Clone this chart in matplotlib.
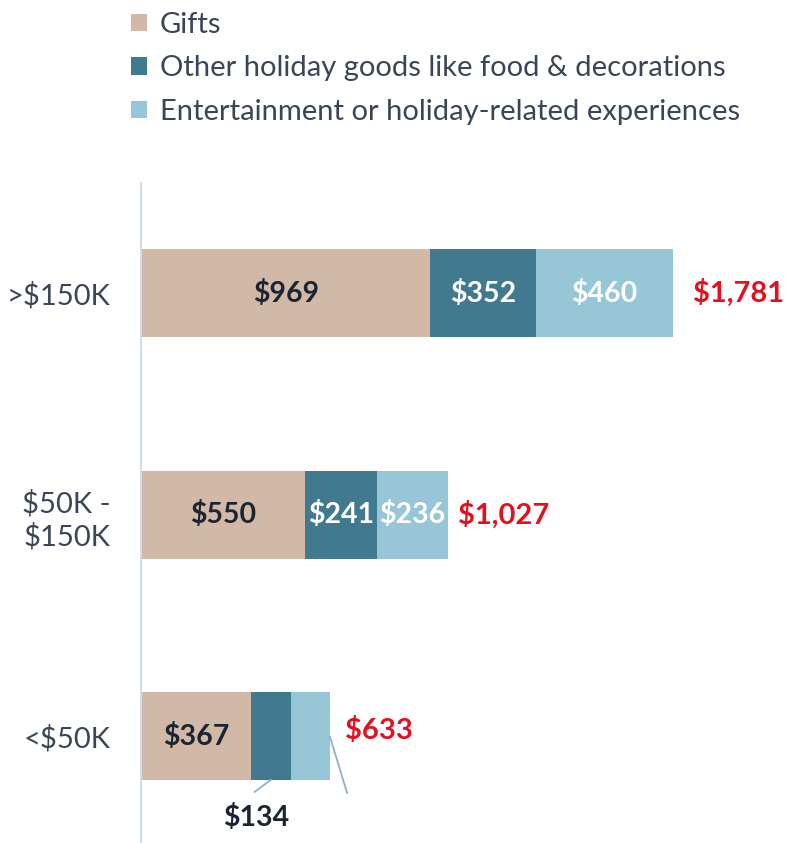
import matplotlib.pyplot as plt
import numpy as np

plt.rcParams['font.family'] = ['Lato', 'DejaVu Sans']

categories = ['<$50K', '$50K -\n$150K', '>$150K']
series = ['Gifts', 'Other holiday goods like food & decorations',
          'Entertainment or holiday-related experiences']
gifts = [367, 550, 969]
other = [134, 241, 352]
entertain = [132, 236, 460]
totals = ['$633', '$1,027', '$1,781']

colors = ['#d1b8a7', '#417a8e', '#97c6d6']
txt_colors = ['#1b2532', 'white', 'white']
red = '#e3101e'
dark = '#1b2532'
grey_txt = '#3a4656'
leader = '#8fb0cc'

fig = plt.figure(figsize=(7.88, 8.43), dpi=100)
ax = fig.add_axes([141 / 788, 0, 1 - 141 / 788, (843 - 183) / 843])

y = np.arange(len(categories))
h = 0.397
left = np.zeros(len(categories))
bars = []
for vals, c in zip([gifts, other, entertain], colors):
    b = ax.barh(y, vals, left=left, height=h, color=c, linewidth=0)
    bars.append(b)
    left = left + np.array(vals)

ax.set_xlim(0, 2166)
ax.set_ylim(-0.483, 2.497)

# labels inside segments
for k, (vals, tc) in enumerate(zip([gifts, other, entertain], txt_colors)):
    start = np.zeros(len(categories))
    for prev in [gifts, other, entertain][:k]:
        start = start + np.array(prev)
    for i, v in enumerate(vals):
        if i == 0 and k > 0:
            continue
        ax.text(start[i] + v / 2, y[i], f'${v}', ha='center', va='center',
                color=tc, fontsize=20.5, fontweight='bold')

# totals
offs = [15, 10, 20]
for i, t in enumerate(totals):
    ax.annotate(t, (left[i], y[i]), xytext=(offs[i] * 0.72, 4 if i == 0 else 0),
                textcoords='offset points', ha='left', va='center',
                color=red, fontsize=21, fontweight='bold')

# leader lines on the smallest bar
g0, o0 = gifts[0], other[0]
mid = g0 + o0 / 2
ax.plot([mid, mid - 54], [y[0] - h / 2, y[0] - h / 2 - 0.054], color=leader, lw=1.3)
ax.text(mid - 50, y[0] - 0.37, f'${o0}', ha='center', va='center',
        color=dark, fontsize=20.5, fontweight='bold')
ax.plot([left[0], left[0] + 57], [y[0] - 0.005, y[0] - 0.257], color=leader, lw=1.3)

ax.set_yticks(y)
ax.set_yticklabels(categories, fontsize=21, color=grey_txt,
                   linespacing=1.25, multialignment='right')
ax.tick_params(axis='y', length=0, pad=22)
ax.set_xticks([])
for s in ['top', 'right', 'bottom']:
    ax.spines[s].set_visible(False)
ax.spines['left'].set_color('#cfdcea')
ax.spines['left'].set_linewidth(1.5)

leg = fig.legend([b[0] for b in bars], series, loc='upper left',
                 bbox_to_anchor=(119 / 788, 1.0), frameon=False,
                 fontsize=21, handlelength=0.55, handleheight=0.55,
                 handletextpad=0.45, labelspacing=0.6, borderaxespad=0)
for t in leg.get_texts():
    t.set_color(grey_txt)

fig.savefig('out.png', dpi=100)
